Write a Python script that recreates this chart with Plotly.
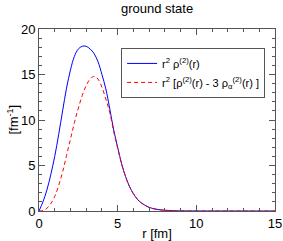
import plotly.graph_objects as go

r_vals = [0, 0.25, 0.5, 0.75, 1.0, 1.25, 1.5, 1.75, 2.0, 2.25, 2.5, 2.75, 3.0, 3.25, 3.5,
          3.75, 4.0, 4.25, 4.5, 4.75, 5.0, 5.25, 5.5, 5.75, 6.0, 6.25, 6.5, 7.0, 7.5, 8.0,
          8.5, 9.0, 10.0, 11.0, 12.0, 13.0, 14.0, 15.0]
rho_total = [0, 1.0, 2.3, 4.0, 6.0, 8.4, 11.0, 13.5, 15.5, 17.0, 17.8, 18.1, 18.1, 17.8, 17.3,
             16.4, 15.0, 13.4, 11.2, 8.9, 7.0, 5.2, 3.8, 2.7, 1.9, 1.3, 0.9, 0.4, 0.18, 0.08,
             0.04, 0.015, 0.004, 0, 0, 0, 0, 0]
rho_diff = [0, 0.05, 0.3, 0.8, 1.6, 2.8, 4.3, 6.1, 7.9, 9.7, 11.3, 12.7, 13.8, 14.5, 14.8,
            14.5, 13.6, 12.3, 10.8, 8.7, 6.9, 5.15, 3.77, 2.68, 1.89, 1.29, 0.89, 0.4, 0.18, 0.08,
            0.04, 0.015, 0.004, 0, 0, 0, 0, 0]

name_total = "r<sup>2</sup> ρ<sup>(2)</sup>(r)"
name_diff = "r<sup>2</sup> [ρ<sup>(2)</sup>(r) - 3 ρ<sub>α</sub><sup>(2)</sup>(r) ]"
y_title = "[fm<sup>-1</sup>]"

fig = go.Figure()
fig.add_trace(go.Scatter(x=r_vals, y=rho_total, mode="lines", name=name_total,
                         line=dict(color="#0000ff", width=1, shape="spline")))
fig.add_trace(go.Scatter(x=r_vals, y=rho_diff, mode="lines", name=name_diff,
                         line=dict(color="#ff0000", width=1, dash="4px,3px", shape="spline")))

axis_common = dict(showgrid=False, zeroline=False, showline=True, linecolor="#555555",
                   linewidth=1, mirror="allticks", ticks="inside", ticklen=6, tickcolor="#555555",
                   tickfont=dict(size=13, color="black"), ticklabeloverflow="allow")
fig.update_xaxes(range=[0, 15], tickvals=[0, 5, 10, 15],
                 minor=dict(dtick=1, ticks="inside", ticklen=3, tickcolor="#555555"),
                 title=dict(text="r [fm]", font=dict(size=13, color="black"), standoff=0),
                 **axis_common)
fig.update_yaxes(range=[0, 20], tickvals=[0, 5, 10, 15, 20],
                 minor=dict(dtick=1, ticks="inside", ticklen=3, tickcolor="#555555"),
                 **axis_common)

fig.add_annotation(text=y_title, xref="paper", yref="paper", x=-0.112, y=0.5,
                   xanchor="center", yanchor="middle", textangle=-90, showarrow=False,
                   font=dict(size=13, color="black"))

fig.update_layout(
    width=283, height=241,
    margin=dict(l=39, r=8, t=29, b=30, autoexpand=False),
    paper_bgcolor="white", plot_bgcolor="white",
    font=dict(family="Liberation Sans, Arial, sans-serif", size=12, color="black"),
    title=dict(text="ground state", x=0.555, xanchor="center", y=0.985, yanchor="top",
               pad=dict(t=0, b=0), font=dict(size=13, color="black")),
    legend=dict(x=0.958, y=0.896, xanchor="right", yanchor="top", bgcolor="white",
                bordercolor="#555555", borderwidth=1, font=dict(size=11),
                itemwidth=30, tracegroupgap=0),
    showlegend=True,
)
# remove the default page margin so the figure fills the window exactly
fig.write_html("out.html", config={"displayModeBar": False},
               post_script="document.body.style.margin='0px';document.body.style.overflow='hidden';")
